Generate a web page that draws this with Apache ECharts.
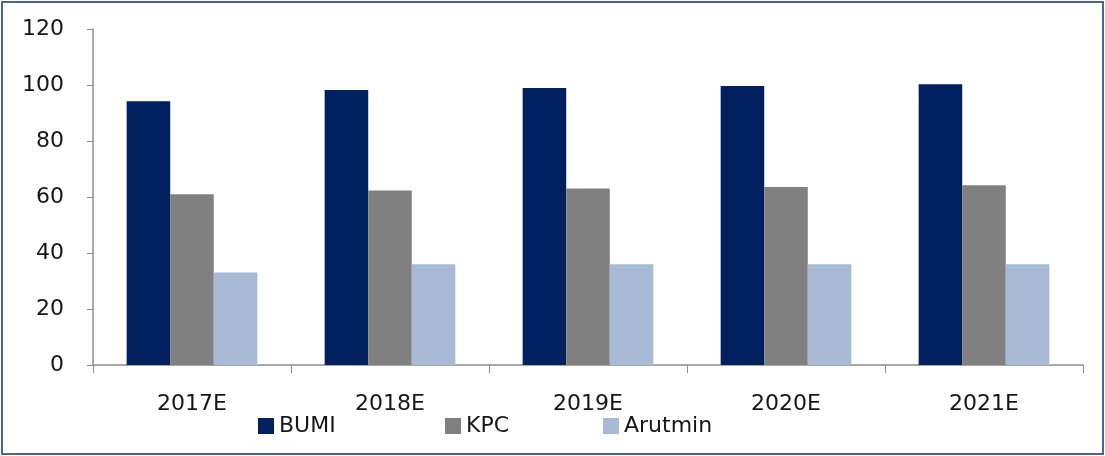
<!DOCTYPE html>
<html>
<head>
<meta charset="utf-8">
<script src="https://cdn.jsdelivr.net/npm/echarts@6/dist/echarts.min.js"></script>
<style>
  html, body { margin: 0; padding: 0; background: #fff; }
  #frame { position: absolute; left: 1px; top: 1px; width: 1099px; height: 450px; border: 2px solid #4a6594; }
  #chart { position: absolute; left: 0; top: 0; width: 1105px; height: 456px; }
</style>
</head>
<body>
<div id="frame"></div>
<div id="chart"></div>
<script>
var years = ['2017E', '2018E', '2019E', '2020E', '2021E'];
var bumi = [94.2, 98.2, 98.9, 99.6, 100.3];
var kpc = [61.0, 62.3, 63.0, 63.6, 64.2];
var arutmin = [33.0, 36.0, 36.0, 36.0, 36.0];
var yTicks = [0, 20, 40, 60, 80, 100, 120];
var seriesNames = ['BUMI', 'KPC', 'Arutmin'];

var chart = echarts.init(document.getElementById('chart'));
var font = 'DejaVu Sans';
var txt = '#161616';

// one legend per item so each sits where the original put it
var legendLeft = [253, 440, 598];
var legends = seriesNames.map(function (name, i) {
    return {
        data: [name],
        left: legendLeft[i],
        top: 410,
        itemWidth: 16,
        itemHeight: 16,
        icon: 'rect',
        textStyle: { fontFamily: font, fontSize: 22, color: txt }
    };
});

var option = {
    animation: false,
    grid: { left: 93, right: 22, top: 29, bottom: 91 },
    legend: legends,
    xAxis: {
        type: 'category',
        data: years,
        axisLine: { lineStyle: { color: '#8c8c8c', width: 1.5 } },
        axisTick: { show: true, length: 8, lineStyle: { color: '#8c8c8c' } },
        axisLabel: { fontFamily: font, fontSize: 22, color: txt, margin: 28 }
    },
    yAxis: {
        type: 'value',
        min: yTicks[0],
        max: yTicks[yTicks.length - 1],
        interval: 20,
        axisLine: { show: true, lineStyle: { color: '#8c8c8c', width: 1.5 } },
        axisTick: { show: true, length: 6, lineStyle: { color: '#8c8c8c' } },
        splitLine: { show: false },
        axisLabel: { fontFamily: font, fontSize: 22, color: txt, margin: 29 }
    },
    series: [{
        name: seriesNames[0],
        type: 'bar',
        data: bumi,
        barGap: '0%',
        barCategoryGap: '34%',
        itemStyle: { color: '#002060' }
    }, {
        name: seriesNames[1],
        type: 'bar',
        data: kpc,
        itemStyle: { color: '#808080' }
    }, {
        name: seriesNames[2],
        type: 'bar',
        data: arutmin,
        itemStyle: { color: '#a9bad7' }
    }]
};

chart.setOption(option);
</script>
</body>
</html>
